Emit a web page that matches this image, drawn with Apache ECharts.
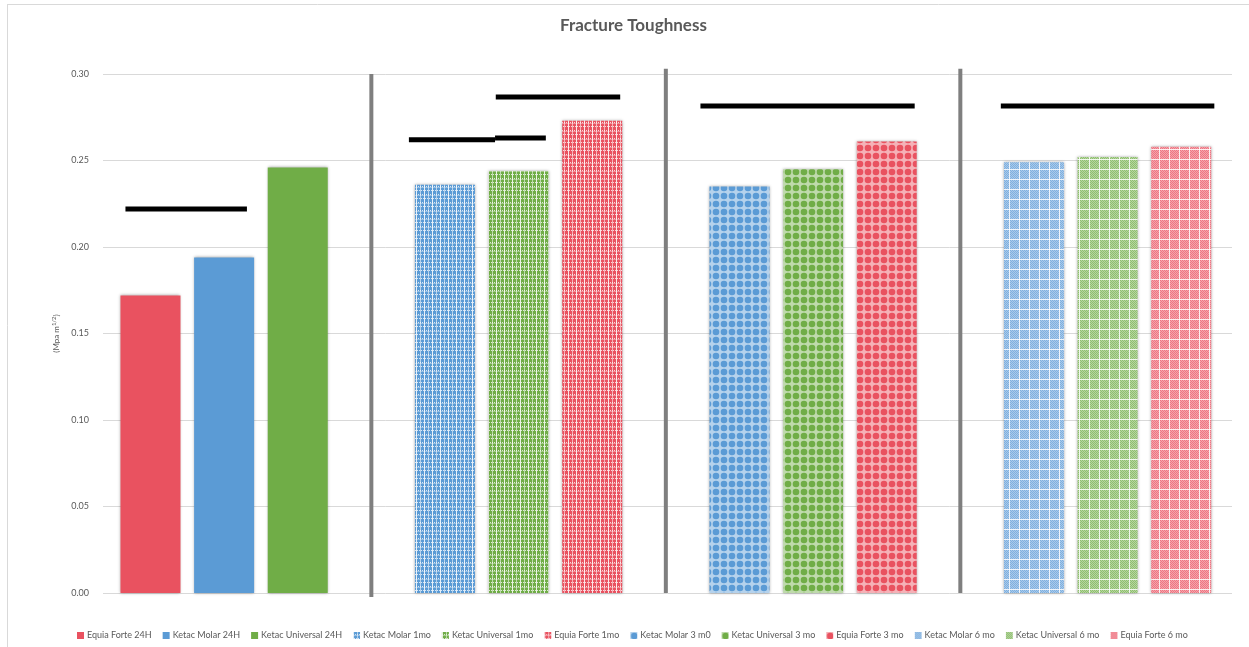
<!DOCTYPE html>
<html>
<head>
<meta charset="utf-8">
<script src="https://cdn.jsdelivr.net/npm/echarts@6/dist/echarts.min.js"></script>
<style>html,body{margin:0;padding:0;background:#fff;}#chart{width:1249px;height:647px;}</style>
</head>
<body>
<div id="chart"></div>
<script>
// ---------- data ----------
const seriesNames = [
  'Equia Forte 24H', 'Ketac Molar 24H', 'Ketac Universal 24H',
  'Ketac Molar 1mo', 'Ketac Universal 1mo', 'Equia Forte 1mo',
  'Ketac Molar 3 m0', 'Ketac Universal 3 mo', 'Equia Forte 3 mo',
  'Ketac Molar 6 mo', 'Ketac Universal 6 mo', 'Equia Forte 6 mo'
];
const seriesValues = [0.172, 0.194, 0.246, 0.236, 0.244, 0.273, 0.235, 0.245, 0.261, 0.249, 0.252, 0.258];
const seriesSlots = [0, 1, 2, 4, 5, 6, 8, 9, 10, 12, 13, 14];
const seriesMaterial = ['equia', 'molar', 'universal', 'molar', 'universal', 'equia', 'molar', 'universal', 'equia', 'molar', 'universal', 'equia'];
const seriesPeriod = ['24H', '24H', '24H', '1mo', '1mo', '1mo', '3mo', '3mo', '3mo', '6mo', '6mo', '6mo'];
const yTicks = [0.00, 0.05, 0.10, 0.15, 0.20, 0.25, 0.30];
// significance bars: [fromSlot, toSlot, value]
const sigLines = [
  [-0.34, 1.31, 0.222],
  [3.51, 4.68, 0.262],
  [4.68, 5.37, 0.263],
  [4.69, 6.38, 0.2867],
  [7.47, 10.38, 0.2815],
  [11.55, 14.45, 0.2815]
];
// group separators: [slot, fromValue, toValue]
const separators = [
  [3, -0.0023, 0.300],
  [7, 0.000, 0.303],
  [11, 0.000, 0.303]
];

// ---------- styles ----------
const baseColors = { equia: '#E95260', molar: '#5B9BD5', universal: '#70AD47' };
const lightColors = { equia: '#F4A3AC', molar: '#A9C9EA', universal: '#B5D59F' };

function makeCanvas(w, h) {
  const c = document.createElement('canvas');
  c.width = w; c.height = h;
  return c;
}
function patternPlaid(color) {
  const c = makeCanvas(8, 8), g = c.getContext('2d');
  g.fillStyle = color; g.fillRect(0, 0, 8, 8);
  g.fillStyle = 'rgba(255,255,255,0.85)';
  g.fillRect(0, 0, 1, 8);
  g.fillStyle = 'rgba(255,255,255,0.55)';
  g.fillRect(4, 0, 1, 8);
  g.fillStyle = 'rgba(255,255,255,0.75)';
  for (let x = 0; x < 8; x += 2) { g.fillRect(x, 2, 1, 1); g.fillRect(x + 1, 6, 1, 1); }
  g.fillStyle = 'rgba(255,255,255,0.35)';
  g.fillRect(0, 3, 8, 1);
  return c;
}
function patternCircles(color) {
  const c = makeCanvas(8, 8), g = c.getContext('2d');
  g.fillStyle = '#ffffff'; g.fillRect(0, 0, 8, 8);
  g.globalAlpha = 0.45; g.fillStyle = color; g.fillRect(0, 0, 8, 8);
  g.globalAlpha = 1;
  g.fillStyle = color;
  g.beginPath(); g.arc(4, 4, 3.3, 0, Math.PI * 2); g.fill();
  return c;
}
function patternChecker(color, light) {
  const c = makeCanvas(10, 10), g = c.getContext('2d');
  g.fillStyle = light; g.fillRect(0, 0, 10, 10);
  g.fillStyle = color;
  g.globalAlpha = 0.55;
  for (let y = 0; y < 9; y++) for (let x = 0; x < 9; x++) if ((x + y) % 2 === 0) g.fillRect(x, y, 1, 1);
  g.globalAlpha = 1;
  g.fillStyle = 'rgba(255,255,255,0.8)';
  g.fillRect(9, 0, 1, 10); g.fillRect(0, 9, 10, 1);
  return c;
}
function fillFor(material, period) {
  const col = baseColors[material];
  if (period === '24H') return col;
  if (period === '1mo') return { image: patternPlaid(col), repeat: 'repeat' };
  if (period === '3mo') return { image: patternCircles(col), repeat: 'repeat' };
  return { image: patternChecker(col, lightColors[material]), repeat: 'repeat' };
}

const series = seriesNames.map((name, i) => ({
  name: name,
  type: 'bar',
  barWidth: 60,
  barGap: '-100%',
  data: [[seriesSlots[i], seriesValues[i]]],
  itemStyle: {
    color: fillFor(seriesMaterial[i], seriesPeriod[i]),
    shadowBlur: 3,
    shadowColor: 'rgba(0,0,0,0.35)'
  },
  emphasis: { disabled: true }
}));

sigLines.forEach(s => {
  series.push({
    type: 'line',
    data: [[s[0], s[2]], [s[1], s[2]]],
    symbol: 'none',
    lineStyle: { color: '#000', width: 5, cap: 'butt' },
    silent: true,
    clip: false,
    z: 5
  });
});
separators.forEach(s => {
  series.push({
    type: 'line',
    data: [[s[0], s[1]], [s[0], s[2]]],
    symbol: 'none',
    lineStyle: { color: '#7F7F7F', width: 4, cap: 'butt' },
    silent: true,
    clip: false,
    z: 5
  });
});

const chart = echarts.init(document.getElementById('chart'), null, { renderer: 'canvas' });
chart.setOption({
  animation: false,
  backgroundColor: '#ffffff',
  title: {
    text: 'Fracture Toughness',
    left: 555,
    top: 12,
    textStyle: { fontFamily: 'Lato', fontSize: 17, fontWeight: 'bold', color: '#595959' }
  },
  graphic: [
    { type: 'line', shape: { x1: 7, y1: 4.5, x2: 1249, y2: 4.5 }, style: { stroke: '#D9D9D9', lineWidth: 1 } },
    { type: 'line', shape: { x1: 7.5, y1: 4, x2: 7.5, y2: 647 }, style: { stroke: '#D9D9D9', lineWidth: 1 } }
  ],
  legend: {
    data: seriesNames,
    bottom: 2,
    left: 72,
    icon: 'rect',
    itemWidth: 7,
    itemHeight: 7,
    itemGap: 11,
    textStyle: { fontFamily: 'Lato', fontSize: 9, color: '#595959', padding: [0, 0, 0, -2] }
  },
  grid: { left: 103, right: 17, top: 74, bottom: 54 },
  xAxis: {
    type: 'value',
    min: -0.645,
    max: 14.69,
    axisLine: { show: false },
    axisTick: { show: false },
    axisLabel: { show: false },
    splitLine: { show: false }
  },
  yAxis: {
    type: 'value',
    min: yTicks[0],
    max: yTicks[yTicks.length - 1],
    interval: 0.05,
    name: '{a|(Mpa m}{s|1/2}{a|)}',
    nameLocation: 'middle',
    nameGap: 41,
    nameRotate: 90,
    nameTextStyle: {
      rich: {
        a: { fontFamily: 'Lato', fontSize: 8, color: '#595959' },
        s: { fontFamily: 'Lato', fontSize: 6, color: '#595959', verticalAlign: 'top', padding: [0, 0, 4, 0] }
      }
    },
    axisLine: { show: false },
    axisTick: { show: false },
    axisLabel: {
      fontFamily: 'Lato', fontSize: 9, color: '#595959', margin: 14,
      formatter: v => v.toFixed(2)
    },
    splitLine: { lineStyle: { color: '#D9D9D9', width: 1 } }
  },
  series: series
});
</script>
</body>
</html>
